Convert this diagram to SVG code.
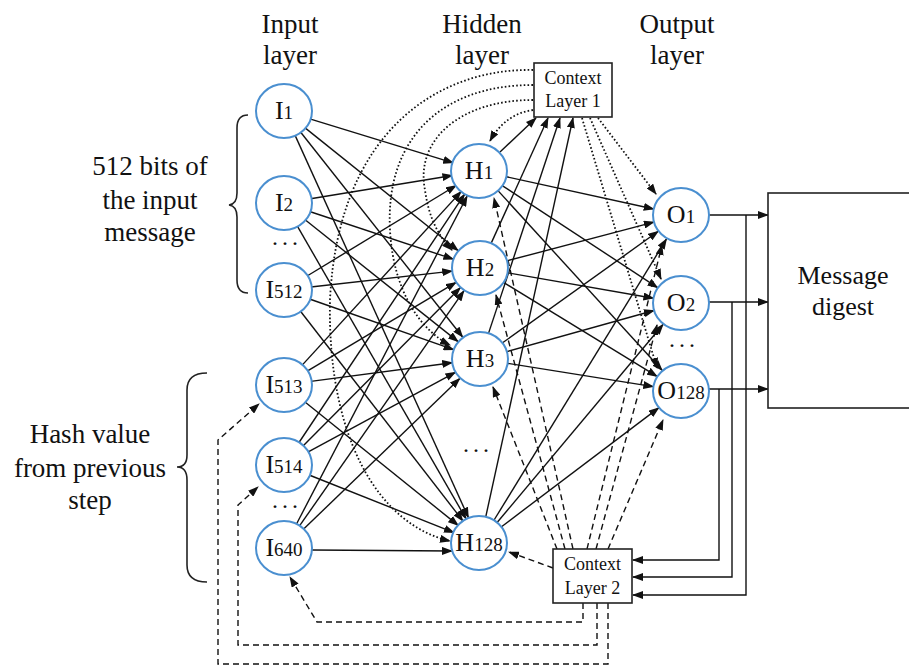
<svg xmlns="http://www.w3.org/2000/svg" width="909" height="666" viewBox="0 0 909 666" font-family="'Liberation Serif','DejaVu Serif','Noto Serif','Times New Roman',Times,serif">
<style>
  .lbl{font-family:"Liberation Serif","DejaVu Serif","Noto Serif","Times New Roman",Times,serif;fill:#111;}
  .hdr{font-size:27px;text-anchor:middle;}
  .side{font-size:27px;text-anchor:middle;}
  .node{fill:#fff;stroke:#4a8fd0;stroke-width:2;}
  .nt{font-size:26px;text-anchor:middle;}
  .sub{font-size:19px;}
  .box{fill:#fff;stroke:#222;stroke-width:1.6;}
  .ctx{font-size:18px;text-anchor:middle;}
  .s{stroke:#111;stroke-width:1.4;fill:none;marker-end:url(#ah);}
  .d{stroke:#111;stroke-width:1.4;fill:none;stroke-dasharray:6 4;marker-end:url(#ah);}
  .p{stroke:#111;stroke-width:1.8;fill:none;stroke-dasharray:1.6 2.2;marker-end:url(#ah);}
  .brace{stroke:#222;stroke-width:1.6;fill:none;}
</style>
<defs>
  <marker id="ah" markerUnits="userSpaceOnUse" markerWidth="11" markerHeight="8" refX="10" refY="4" orient="auto">
    <path d="M0,0 L11,4 L0,8 z" fill="#111"/>
  </marker>
</defs>
<rect width="909" height="666" fill="#fff"/>

<g id="headers" class="lbl hdr">
  <text x="290" y="33">Input</text><text x="290" y="64">layer</text>
  <text x="482" y="33">Hidden</text><text x="482" y="64">layer</text>
  <text x="677" y="33">Output</text><text x="677" y="64">layer</text>
</g>

<g id="group-input-message">
  <path class="brace" d="M248,115 Q237,115 237,128 V193 Q237,204 229,205 Q237,206 237,217 V280 Q237,293 248,293"/>
  <g class="lbl side"><text x="150" y="175">512 bits of</text><text x="150" y="209">the input</text><text x="150" y="241">message</text></g>
</g>
<g id="group-hash">
  <path class="brace" d="M207,373 Q187,373 187,390 V455 Q187,467 177,467 Q187,467 187,480 V565 Q187,582 207,582"/>
  <g class="lbl side"><text x="90" y="443">Hash value</text><text x="90" y="477">from previous</text><text x="90" y="509">step</text></g>
</g>

<g id="connectors">
  <line class="s" x1="309.8" y1="118.9" x2="453.2" y2="162.8"/>
  <line class="s" x1="305.1" y1="127.9" x2="458.1" y2="250.5"/>
  <line class="s" x1="300.7" y1="132.2" x2="462.6" y2="337.0"/>
  <line class="s" x1="295.2" y1="135.6" x2="468.4" y2="517.5"/>
  <line class="s" x1="310.6" y1="198.7" x2="452.4" y2="175.5"/>
  <line class="s" x1="309.6" y1="211.5" x2="453.4" y2="259.2"/>
  <line class="s" x1="305.1" y1="219.8" x2="458.1" y2="341.6"/>
  <line class="s" x1="297.5" y1="226.4" x2="466.0" y2="518.7"/>
  <line class="s" x1="307.1" y1="276.0" x2="456.1" y2="185.5"/>
  <line class="s" x1="310.8" y1="287.0" x2="452.2" y2="271.1"/>
  <line class="s" x1="309.5" y1="299.0" x2="453.6" y2="349.7"/>
  <line class="s" x1="300.5" y1="311.3" x2="462.9" y2="520.9"/>
  <line class="s" x1="302.2" y1="365.1" x2="461.1" y2="191.6"/>
  <line class="s" x1="307.2" y1="371.2" x2="456.0" y2="282.4"/>
  <line class="s" x1="310.8" y1="381.4" x2="452.2" y2="362.7"/>
  <line class="s" x1="305.0" y1="402.0" x2="458.2" y2="525.4"/>
  <line class="s" x1="299.0" y1="442.5" x2="464.5" y2="194.3"/>
  <line class="s" x1="303.0" y1="445.9" x2="460.3" y2="287.8"/>
  <line class="s" x1="307.8" y1="452.2" x2="455.4" y2="372.3"/>
  <line class="s" x1="309.1" y1="475.0" x2="454.0" y2="532.6"/>
  <line class="s" x1="296.5" y1="524.0" x2="467.1" y2="196.2"/>
  <line class="s" x1="299.5" y1="525.9" x2="463.9" y2="290.9"/>
  <line class="s" x1="303.4" y1="529.3" x2="459.8" y2="378.4"/>
  <line class="s" x1="312" y1="550" x2="452" y2="551"/>
  <line class="s" x1="506.4" y1="176.8" x2="653.7" y2="209.0"/>
  <line class="s" x1="502.6" y1="185.8" x2="657.6" y2="287.6"/>
  <line class="s" x1="498.2" y1="190.9" x2="662.1" y2="370.3"/>
  <line class="s" x1="506.1" y1="261.1" x2="653.9" y2="222.1"/>
  <line class="s" x1="506.6" y1="272.6" x2="653.4" y2="298.2"/>
  <line class="s" x1="503.0" y1="282.1" x2="657.1" y2="376.4"/>
  <line class="s" x1="501.9" y1="343.3" x2="658.2" y2="231.3"/>
  <line class="s" x1="506.0" y1="351.8" x2="654.0" y2="310.5"/>
  <line class="s" x1="506.7" y1="363.2" x2="653.3" y2="386.6"/>
  <line class="s" x1="494.1" y1="520.0" x2="666.4" y2="239.1"/>
  <line class="s" x1="497.3" y1="522.3" x2="663.0" y2="324.5"/>
  <line class="s" x1="501.5" y1="526.7" x2="658.7" y2="407.9"/>
  <line class="s" x1="500" y1="152" x2="536" y2="118"/>
  <line class="s" x1="491.1" y1="243.4" x2="548" y2="118"/>
  <line class="s" x1="488.5" y1="333.4" x2="560" y2="118"/>
  <line class="s" x1="485.8" y1="516.6" x2="573" y2="118"/>
  <path class="p" d="M533,110 Q505,114 490,141"/>
  <path class="p" d="M533,100 C460,100 415,140 425,190 Q430,228 452,250"/>
  <path class="p" d="M533,85 C440,85 385,140 390,230 C393,290 420,330 450,345"/>
  <path class="p" d="M533,70 C440,68 338,130 330,300 C327,440 380,525 450,541"/>
  <line class="p" x1="598" y1="118" x2="656" y2="194"/>
  <line class="p" x1="590" y1="118" x2="661" y2="279"/>
  <line class="p" x1="582" y1="118" x2="657" y2="368"/>
  <line class="d" x1="573" y1="549" x2="494" y2="198"/>
  <line class="d" x1="565" y1="549" x2="496" y2="295"/>
  <line class="d" x1="557" y1="549" x2="493" y2="387"/>
  <line class="d" x1="553" y1="568" x2="509" y2="552"/>
  <line class="d" x1="587" y1="549" x2="662" y2="245"/>
  <line class="d" x1="596" y1="549" x2="657" y2="325"/>
  <line class="d" x1="608" y1="549" x2="663" y2="420"/>
  <path class="d" d="M583,603 V622 H317 L290,577"/>
  <path class="d" d="M597,603 V645 H238 V505 L258,487"/>
  <path class="d" d="M608,603 V664 H218 V440 L259,404"/>
  <line class="s" x1="709" y1="215" x2="768" y2="215"/>
  <line class="s" x1="709" y1="302" x2="768" y2="302"/>
  <line class="s" x1="709" y1="389" x2="768" y2="389"/>
  <path class="s" d="M746,215 V595 H633"/>
  <path class="s" d="M732,302 V577 H633"/>
  <path class="s" d="M719,389 V560 H633"/>
</g>

<g id="I1"><ellipse class="node" cx="284" cy="111" rx="28" ry="27"/><text class="lbl nt" x="284" y="119">I<tspan class="sub">1</tspan></text></g>
<g id="I2"><ellipse class="node" cx="284" cy="203" rx="28" ry="27"/><text class="lbl nt" x="284" y="211">I<tspan class="sub">2</tspan></text></g>
<g id="I512"><ellipse class="node" cx="284" cy="290" rx="28" ry="27"/><text class="lbl nt" x="284" y="298">I<tspan class="sub">512</tspan></text></g>
<g id="I513"><ellipse class="node" cx="284" cy="385" rx="28" ry="27"/><text class="lbl nt" x="284" y="393">I<tspan class="sub">513</tspan></text></g>
<g id="I514"><ellipse class="node" cx="284" cy="465" rx="28" ry="27"/><text class="lbl nt" x="284" y="473">I<tspan class="sub">514</tspan></text></g>
<g id="I640"><ellipse class="node" cx="284" cy="548" rx="28" ry="27"/><text class="lbl nt" x="284" y="556">I<tspan class="sub">640</tspan></text></g>
<g id="dots-input" class="lbl"><text x="272" y="245" font-size="24" letter-spacing="4">...</text><text x="272" y="508" font-size="24" letter-spacing="4">...</text></g>

<g id="H1"><ellipse class="node" cx="479" cy="171" rx="28" ry="27"/><text class="lbl nt" x="479" y="179">H<tspan class="sub">1</tspan></text></g>
<g id="H2"><ellipse class="node" cx="480" cy="268" rx="28" ry="27"/><text class="lbl nt" x="480" y="276">H<tspan class="sub">2</tspan></text></g>
<g id="H3"><ellipse class="node" cx="480" cy="359" rx="28" ry="27"/><text class="lbl nt" x="480" y="367">H<tspan class="sub">3</tspan></text></g>
<g id="H128"><ellipse class="node" cx="479" cy="543" rx="28" ry="27"/><text class="lbl nt" x="479" y="551">H<tspan class="sub">128</tspan></text></g>
<g id="dots-hidden" class="lbl"><text x="463" y="452" font-size="24" letter-spacing="4">...</text></g>

<g id="O1"><ellipse class="node" cx="681" cy="215" rx="28" ry="27"/><text class="lbl nt" x="681" y="223">O<tspan class="sub">1</tspan></text></g>
<g id="O2"><ellipse class="node" cx="681" cy="303" rx="28" ry="27"/><text class="lbl nt" x="681" y="311">O<tspan class="sub">2</tspan></text></g>
<g id="O128"><ellipse class="node" cx="681" cy="391" rx="28" ry="27"/><text class="lbl nt" x="681" y="399">O<tspan class="sub">128</tspan></text></g>
<g id="dots-output" class="lbl"><text x="669" y="347" font-size="24" letter-spacing="4">...</text></g>

<g id="context1"><rect class="box" x="534" y="63" width="78" height="54"/><text class="lbl ctx" x="573" y="84">Context</text><text class="lbl ctx" x="573" y="107">Layer 1</text></g>
<g id="context2"><rect class="box" x="553" y="549" width="79" height="54"/><text class="lbl ctx" x="592.5" y="570">Context</text><text class="lbl ctx" x="592.5" y="594">Layer 2</text></g>

<g id="digest"><rect class="box" x="768" y="193" width="160" height="215"/><text class="lbl" x="843" y="284" font-size="26" text-anchor="middle">Message</text><text class="lbl" x="843" y="315" font-size="26" text-anchor="middle">digest</text></g>
</svg>
